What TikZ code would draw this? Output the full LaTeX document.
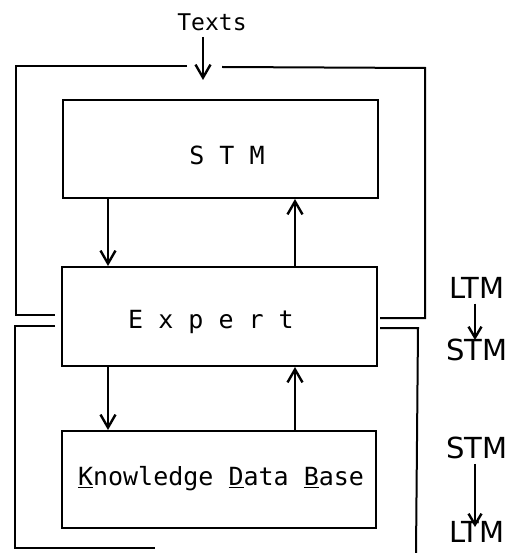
\documentclass[tikz,border=0pt]{standalone}
\usepackage{fontspec}
\setmonofont{DejaVu Sans Mono}
\newfontfamily\handfont{DejaVu Sans}
\usetikzlibrary{arrows.meta}
\begin{document}
\begin{tikzpicture}[x=1pt,y=-1pt,line width=2pt,
  box/.style={draw,anchor=north west,inner sep=0pt},
  arr/.style={-{Straight Barb[length=13pt,width=15pt,line width=2.4pt]}},
  harr/.style={line width=2pt,-{Straight Barb[length=11pt,width=13pt,line width=2.4pt]}},
  txt/.style={font=\ttfamily\fontsize{25}{30}\selectfont},
  hand/.style={font=\handfont\fontsize{29}{32}\selectfont,inner sep=0pt}]
\useasboundingbox (0,0) rectangle (518,553);

% boxes
\node[box,minimum width=315pt,minimum height=98pt] (stm) at (62,99) {};
\node[box,minimum width=315pt,minimum height=99pt] (expert) at (61,266) {};
\node[box,minimum width=314pt,minimum height=97pt] (kdb) at (61,430) {};

% labels
\node[txt] (stmlab) at (227,155) {S T M};
\node[txt] (explab) at (211,322) {E x p e r t};
\node[txt] (kdblab) at (221,479) {\underline{K}nowledge \underline{D}ata \underline{B}ase};
\node[font=\ttfamily\fontsize{23}{28}\selectfont] (texts) at (212,22) {Texts};

% input arrow
\coordinate (tin) at (203,37);
\coordinate (tout) at (203,80);
\draw[arr] (tin) -- (tout);

% arrows between boxes
\coordinate (xa) at (108,0);
\coordinate (xb) at (295,0);
\draw[arr] (stm.south -| xa) -- (expert.north -| xa);
\draw[arr] (expert.north -| xb) -- (stm.south -| xb);
\draw[arr] (expert.south -| xa) -- (kdb.north -| xa);
\draw[arr] (kdb.north -| xb) -- (expert.south -| xb);

% outer frames
\coordinate (f1) at (187,66);
\coordinate (f2) at (16,66);
\coordinate (f3) at (16,315);
\coordinate (f4) at (55,315);
\draw (f1) -- (f2) -- (f3) -- (f4);
\coordinate (g1) at (222,67);
\coordinate (g2) at (425,68);
\coordinate (g3) at (425,318);
\coordinate (g4) at (380,318);
\draw (g1) -- (g2) -- (g3) -- (g4);
\coordinate (h1) at (55,326);
\coordinate (h2) at (15,326);
\coordinate (h3) at (15,548);
\coordinate (h4) at (155,548);
\draw (h1) -- (h2) -- (h3) -- (h4);
\coordinate (k1) at (380,328);
\coordinate (k2) at (418,328);
\coordinate (k3) at (416,553);
\draw (k1) -- (k2) -- (k3);

% handwritten labels
\node[hand] (ltma) at (477,288) {LTM};
\node[hand] (stma) at (477,350) {STM};
\draw[harr] (ltma.south -| 475,0) ++(0,4) -- (475,340);
\node[hand] (stmb) at (477,448) {STM};
\node[hand] (ltmb) at (477,532) {LTM};
\draw[harr] (stmb.south -| 475,0) ++(0,4) -- (475,527);
\end{tikzpicture}
\end{document}
